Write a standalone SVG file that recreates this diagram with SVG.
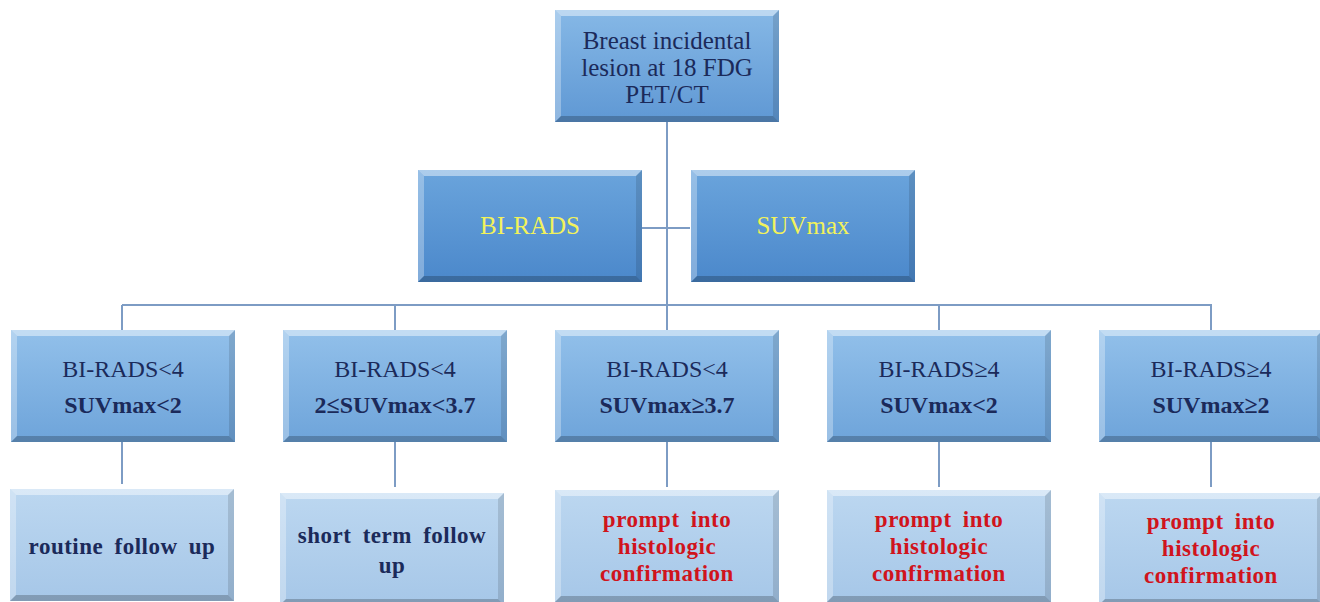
<svg xmlns="http://www.w3.org/2000/svg" width="1320" height="602" viewBox="0 0 1320 602">
<style>
text{font-family:"Liberation Serif","Times New Roman","DejaVu Serif",serif;text-anchor:middle}
.navy{fill:#1b2a5a;font-size:25px}
.yel{fill:#f2f25a;font-size:25px}
.n2{fill:#1b2a5a;font-size:24px}
.b2{fill:#1b2a5a;font-size:24px;font-weight:bold}
.red{fill:#d0141c;font-size:23px;font-weight:bold;letter-spacing:0.5px}
.nb{fill:#1b2a5a;font-size:23px;font-weight:bold;letter-spacing:0.5px}
.conn{stroke:#7d9cc4;stroke-width:2;fill:none}
.bt{fill:#ffffff;fill-opacity:0.45}
.bl{fill:#ffffff;fill-opacity:0.3}
.br{fill:#000000;fill-opacity:0.12}
.bb{fill:#000000;fill-opacity:0.22}
</style>
<defs>
<linearGradient id="gTop" x1="0" y1="0" x2="0" y2="1"><stop offset="0" stop-color="#86b8e6"/><stop offset="1" stop-color="#5f98d4"/></linearGradient>
<linearGradient id="gMid" x1="0" y1="0" x2="0" y2="1"><stop offset="0" stop-color="#6aa4dc"/><stop offset="1" stop-color="#4b88cb"/></linearGradient>
<linearGradient id="gL2" x1="0" y1="0" x2="0" y2="1"><stop offset="0" stop-color="#92c0ea"/><stop offset="1" stop-color="#6ea4da"/></linearGradient>
<linearGradient id="gL3" x1="0" y1="0" x2="0" y2="1"><stop offset="0" stop-color="#bcd7f0"/><stop offset="1" stop-color="#a6c7e8"/></linearGradient>
</defs>
<rect width="1320" height="602" fill="#ffffff"/>
<g id="connectors">
<line class="conn" x1="667" y1="122" x2="667" y2="305"/>
<line class="conn" x1="642" y1="228" x2="690" y2="228"/>
<line class="conn" x1="122" y1="305" x2="1212" y2="305"/>
<line class="conn" x1="122" y1="305" x2="122" y2="330"/>
<line class="conn" x1="395" y1="305" x2="395" y2="330"/>
<line class="conn" x1="667" y1="305" x2="667" y2="330"/>
<line class="conn" x1="939" y1="305" x2="939" y2="330"/>
<line class="conn" x1="1211" y1="305" x2="1211" y2="330"/>
<line class="conn" x1="122" y1="442" x2="122" y2="484"/>
<line class="conn" x1="395" y1="442" x2="395" y2="487"/>
<line class="conn" x1="667" y1="442" x2="667" y2="487"/>
<line class="conn" x1="939" y1="442" x2="939" y2="487"/>
<line class="conn" x1="1211" y1="442" x2="1211" y2="487"/>
</g>
<g id="n-root">
<g transform="translate(555,10)"><rect width="224" height="112" fill="url(#gTop)"/><polygon class="bt" points="0,0 224,0 218,6 6,6"/><polygon class="bl" points="0,0 6,6 6,106 0,112"/><polygon class="br" points="224,0 224,112 218,106 218,6"/><polygon class="bb" points="0,112 6,106 218,106 224,112"/></g>
<text class="navy" x="667" y="49">Breast incidental</text>
<text class="navy" x="667" y="76">lesion at 18 FDG</text>
<text class="navy" x="667" y="103">PET/CT</text></g>
<g id="n-birads">
<g transform="translate(418,170)"><rect width="224" height="112" fill="url(#gMid)"/><polygon class="bt" points="0,0 224,0 218,6 6,6"/><polygon class="bl" points="0,0 6,6 6,106 0,112"/><polygon class="br" points="224,0 224,112 218,106 218,6"/><polygon class="bb" points="0,112 6,106 218,106 224,112"/></g>
<text class="yel" x="530" y="234">BI-RADS</text></g>
<g id="n-suv">
<g transform="translate(691,170)"><rect width="224" height="112" fill="url(#gMid)"/><polygon class="bt" points="0,0 224,0 218,6 6,6"/><polygon class="bl" points="0,0 6,6 6,106 0,112"/><polygon class="br" points="224,0 224,112 218,106 218,6"/><polygon class="bb" points="0,112 6,106 218,106 224,112"/></g>
<text class="yel" x="803" y="234">SUVmax</text></g>
<g id="n-a">
<g transform="translate(11,330)"><rect width="224" height="112" fill="url(#gL2)"/><polygon class="bt" points="0,0 224,0 218,6 6,6"/><polygon class="bl" points="0,0 6,6 6,106 0,112"/><polygon class="br" points="224,0 224,112 218,106 218,6"/><polygon class="bb" points="0,112 6,106 218,106 224,112"/></g>
<text class="n2" x="123" y="377">BI-RADS&lt;4</text>
<text class="b2" x="123" y="413">SUVmax&lt;2</text></g>
<g id="n-b">
<g transform="translate(283,330)"><rect width="224" height="112" fill="url(#gL2)"/><polygon class="bt" points="0,0 224,0 218,6 6,6"/><polygon class="bl" points="0,0 6,6 6,106 0,112"/><polygon class="br" points="224,0 224,112 218,106 218,6"/><polygon class="bb" points="0,112 6,106 218,106 224,112"/></g>
<text class="n2" x="395" y="377">BI-RADS&lt;4</text>
<text class="b2" x="395" y="413">2≤SUVmax&lt;3.7</text></g>
<g id="n-c">
<g transform="translate(555,330)"><rect width="224" height="112" fill="url(#gL2)"/><polygon class="bt" points="0,0 224,0 218,6 6,6"/><polygon class="bl" points="0,0 6,6 6,106 0,112"/><polygon class="br" points="224,0 224,112 218,106 218,6"/><polygon class="bb" points="0,112 6,106 218,106 224,112"/></g>
<text class="n2" x="667" y="377">BI-RADS&lt;4</text>
<text class="b2" x="667" y="413">SUVmax≥3.7</text></g>
<g id="n-d">
<g transform="translate(827,330)"><rect width="224" height="112" fill="url(#gL2)"/><polygon class="bt" points="0,0 224,0 218,6 6,6"/><polygon class="bl" points="0,0 6,6 6,106 0,112"/><polygon class="br" points="224,0 224,112 218,106 218,6"/><polygon class="bb" points="0,112 6,106 218,106 224,112"/></g>
<text class="n2" x="939" y="377">BI-RADS≥4</text>
<text class="b2" x="939" y="413">SUVmax&lt;2</text></g>
<g id="n-e">
<g transform="translate(1099,330)"><rect width="224" height="112" fill="url(#gL2)"/><polygon class="bt" points="0,0 224,0 218,6 6,6"/><polygon class="bl" points="0,0 6,6 6,106 0,112"/><polygon class="br" points="224,0 224,112 218,106 218,6"/><polygon class="bb" points="0,112 6,106 218,106 224,112"/></g>
<text class="n2" x="1211" y="377">BI-RADS≥4</text>
<text class="b2" x="1211" y="413">SUVmax≥2</text></g>
<g id="r-a">
<g transform="translate(10,489)"><rect width="224" height="112" fill="url(#gL3)"/><polygon class="bt" points="0,0 224,0 218,6 6,6"/><polygon class="bl" points="0,0 6,6 6,106 0,112"/><polygon class="br" points="224,0 224,112 218,106 218,6"/><polygon class="bb" points="0,112 6,106 218,106 224,112"/></g>
<text class="nb" x="122" y="554" word-spacing="5">routine follow up</text></g>
<g id="r-b">
<g transform="translate(280,493)"><rect width="224" height="112" fill="url(#gL3)"/><polygon class="bt" points="0,0 224,0 218,6 6,6"/><polygon class="bl" points="0,0 6,6 6,106 0,112"/><polygon class="br" points="224,0 224,112 218,106 218,6"/><polygon class="bb" points="0,112 6,106 218,106 224,112"/></g>
<text class="nb" x="392" y="543" word-spacing="5">short term follow</text>
<text class="nb" x="392" y="573">up</text></g>
<g id="r-c">
<g transform="translate(555,490)"><rect width="224" height="112" fill="url(#gL3)"/><polygon class="bt" points="0,0 224,0 218,6 6,6"/><polygon class="bl" points="0,0 6,6 6,106 0,112"/><polygon class="br" points="224,0 224,112 218,106 218,6"/><polygon class="bb" points="0,112 6,106 218,106 224,112"/></g>
<text class="red" x="667" y="527" word-spacing="5">prompt into</text>
<text class="red" x="667" y="554">histologic</text>
<text class="red" x="667" y="581">confirmation</text></g>
<g id="r-d">
<g transform="translate(827,490)"><rect width="224" height="112" fill="url(#gL3)"/><polygon class="bt" points="0,0 224,0 218,6 6,6"/><polygon class="bl" points="0,0 6,6 6,106 0,112"/><polygon class="br" points="224,0 224,112 218,106 218,6"/><polygon class="bb" points="0,112 6,106 218,106 224,112"/></g>
<text class="red" x="939" y="527" word-spacing="5">prompt into</text>
<text class="red" x="939" y="554">histologic</text>
<text class="red" x="939" y="581">confirmation</text></g>
<g id="r-e">
<g transform="translate(1099,493)"><rect width="224" height="112" fill="url(#gL3)"/><polygon class="bt" points="0,0 224,0 218,6 6,6"/><polygon class="bl" points="0,0 6,6 6,106 0,112"/><polygon class="br" points="224,0 224,112 218,106 218,6"/><polygon class="bb" points="0,112 6,106 218,106 224,112"/></g>
<text class="red" x="1211" y="529" word-spacing="5">prompt into</text>
<text class="red" x="1211" y="556">histologic</text>
<text class="red" x="1211" y="583">confirmation</text></g>
</svg>
